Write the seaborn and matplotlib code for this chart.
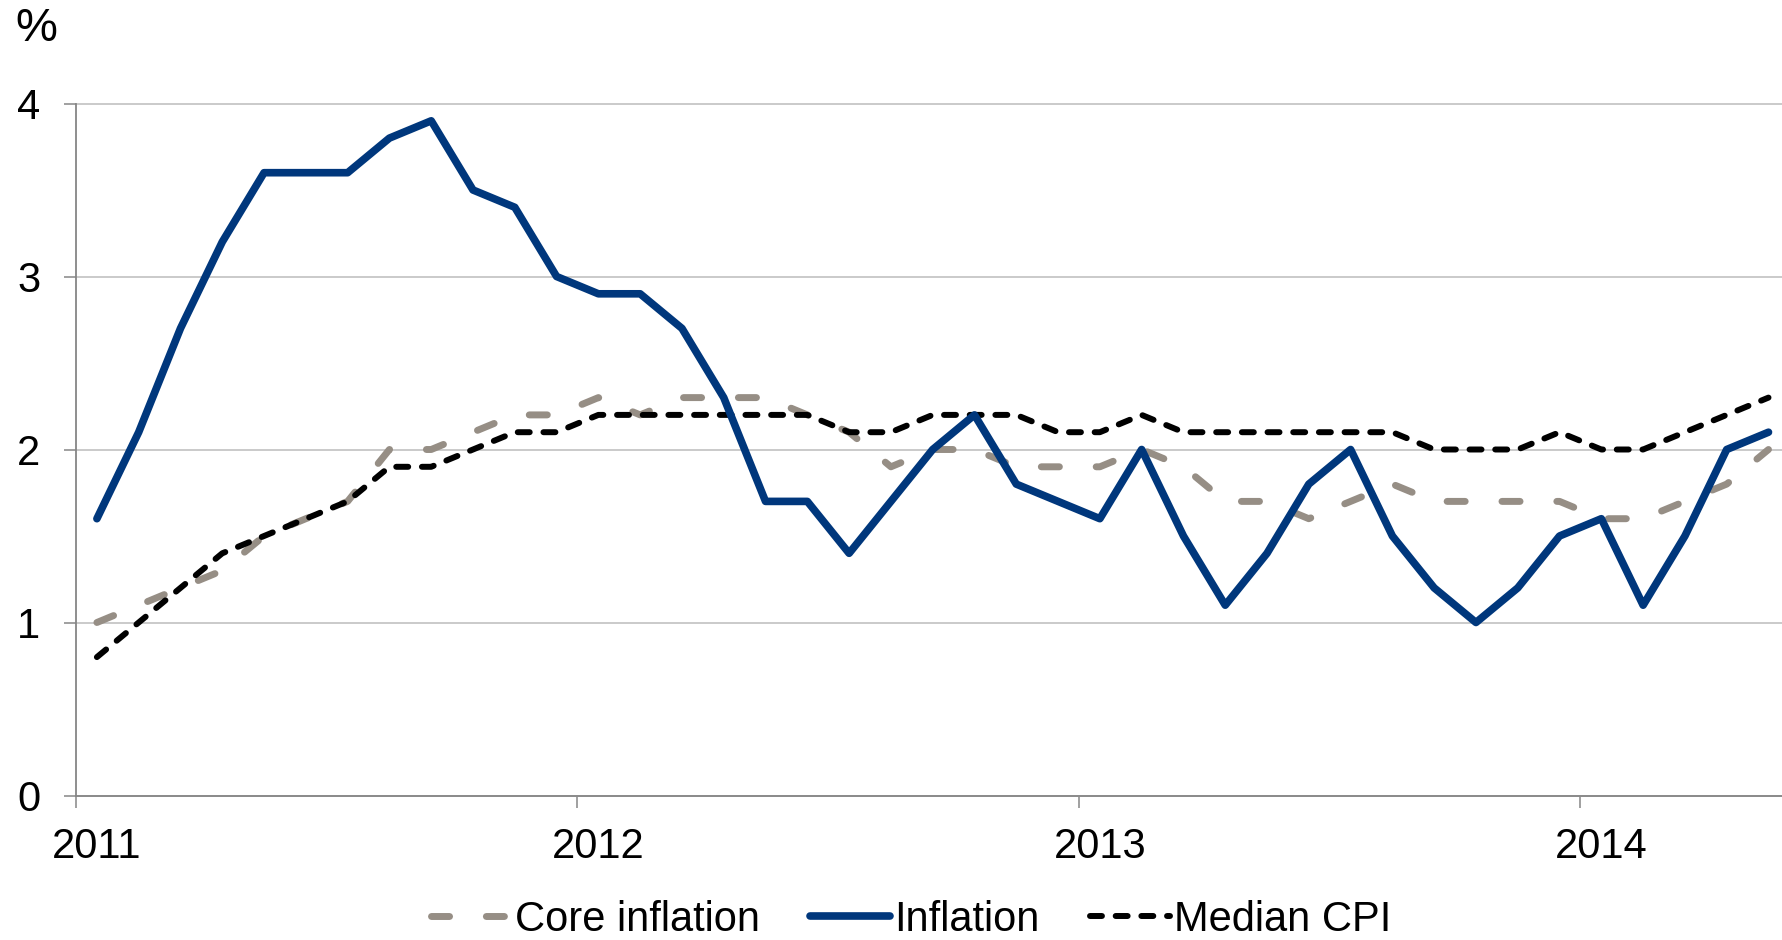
import numpy as np
import pandas as pd
import matplotlib
matplotlib.use('Agg')
from matplotlib import pyplot as plt
import seaborn as sns

# Monthly data, Jan 2011 - May 2014 (%, year-ended)
year_labels = ['2011', '2012', '2013', '2014']
inflation = [1.6, 2.1, 2.7, 3.2, 3.6, 3.6, 3.6, 3.8, 3.9, 3.5, 3.4, 3.0,
             2.9, 2.9, 2.7, 2.3, 1.7, 1.7, 1.4, 1.7, 2.0, 2.2, 1.8, 1.7,
             1.6, 2.0, 1.5, 1.1, 1.4, 1.8, 2.0, 1.5, 1.2, 1.0, 1.2, 1.5,
             1.6, 1.1, 1.5, 2.0, 2.1]
core_inflation = [1.0, 1.1, 1.2, 1.3, 1.5, 1.6, 1.7, 2.0, 2.0, 2.1, 2.2, 2.2,
                  2.3, 2.2, 2.3, 2.3, 2.3, 2.2, 2.1, 1.9, 2.0, 2.0, 1.9, 1.9,
                  1.9, 2.0, 1.9, 1.7, 1.7, 1.6, 1.7, 1.8, 1.7, 1.7, 1.7, 1.7,
                  1.6, 1.6, 1.7, 1.8, 2.0]
median_cpi = [0.8, 1.0, 1.2, 1.4, 1.5, 1.6, 1.7, 1.9, 1.9, 2.0, 2.1, 2.1,
              2.2, 2.2, 2.2, 2.2, 2.2, 2.2, 2.1, 2.1, 2.2, 2.2, 2.2, 2.1,
              2.1, 2.2, 2.1, 2.1, 2.1, 2.1, 2.1, 2.1, 2.0, 2.0, 2.0, 2.1,
              2.0, 2.0, 2.1, 2.2, 2.3]

# category positions: each month sits in the middle of its slot
df = pd.DataFrame({'month': np.arange(len(inflation)) + 0.5,
                   'Inflation': inflation,
                   'Core inflation': core_inflation,
                   'Median CPI': median_cpi})

sns.set_style('white')
plt.rcParams['font.family'] = ['Liberation Sans', 'DejaVu Sans']
plt.rcParams['text.color'] = 'black'
plt.rcParams['xtick.labelcolor'] = 'black'
plt.rcParams['ytick.labelcolor'] = 'black'

W, H = 1783, 940
fig = plt.figure(figsize=(W / 100, H / 100), dpi=100)
ax = fig.add_axes([76 / W, 1 - 795.5 / H, 1 - 76 / W, (795.5 - 103.5) / H])

axis_grey = '#868686'
fs = 30

sns.lineplot(data=df, x='month', y='Core inflation', ax=ax, color='#968e85', lw=5.0,
             linestyle=(0, (2.6, 5.3)), dash_capstyle='round', label='Core inflation')
sns.lineplot(data=df, x='month', y='Median CPI', ax=ax, color='black', lw=4.3,
             linestyle=(0, (2.0, 2.3)), dash_capstyle='round', label='Median CPI')
sns.lineplot(data=df, x='month', y='Inflation', ax=ax, color='#00377c', lw=5.5,
             solid_capstyle='round', solid_joinstyle='round', label='Inflation')

ax.set_xlim(0, (W - 76) / 41.79)
ax.set_ylim(0, 4)
ax.set_xlabel('')
ax.set_ylabel('')

# year ticks at slot boundaries, labels centred on January
ax.set_xticks([0, 12, 24, 36])
ax.set_xticklabels([])
ax.set_xticks([0.5, 12.5, 24.5, 36.5], minor=True)
ax.set_xticklabels(year_labels, minor=True)
ax.tick_params(axis='x', which='major', direction='out', length=8.6, width=1.1,
               color=axis_grey, bottom=True)
ax.tick_params(axis='x', which='minor', length=0, pad=23, labelsize=fs)

ax.set_yticks([0, 1, 2, 3, 4])
ax.tick_params(axis='y', direction='out', length=8.6, width=1.1, color=axis_grey,
               left=True, pad=17, labelsize=fs)

ax.grid(axis='y', color='#c6c6c6', lw=1.3)
ax.grid(axis='x', visible=False)
for gl in ax.get_ygridlines():
    gl.set_clip_on(False)
ax.set_axisbelow(True)

for side in ['top', 'right']:
    ax.spines[side].set_visible(False)
for side in ['left', 'bottom']:
    ax.spines[side].set_color(axis_grey)
    ax.spines[side].set_linewidth(1.3)

fig.text(15 / W, 1 - 29 / H, '%', fontsize=34, va='center', ha='left')

handles, labels = ax.get_legend_handles_labels()
order = [labels.index(n) for n in ['Core inflation', 'Inflation', 'Median CPI']]
ax.get_legend().remove()
fig.legend([handles[i] for i in order], [labels[i] for i in order],
           loc='center', bbox_to_anchor=(911 / W, 1 - 920 / H), ncol=3,
           frameon=False, fontsize=fs, handlelength=1.92, handletextpad=0.1,
           columnspacing=1.2)

plt.savefig('out.png', dpi=100)
plt.close()
